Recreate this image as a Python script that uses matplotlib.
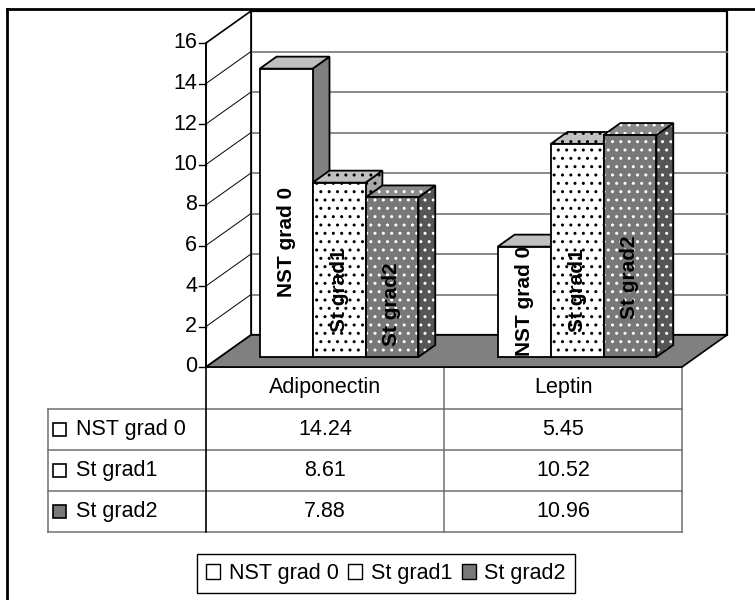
import numpy as np
import matplotlib
matplotlib.use("Agg")
import matplotlib.pyplot as plt
from matplotlib.patches import Polygon, Rectangle, Patch
from matplotlib.lines import Line2D
from matplotlib.transforms import IdentityTransform

# %%
categories = ["Adiponectin", "Leptin"]
series = ["NST grad 0", "St grad1", "St grad2"]
adiponectin = [14.24, 8.61, 7.88]
leptin = [5.45, 10.52, 10.96]
yticks = [0, 2, 4, 6, 8, 10, 12, 14, 16]

values = [adiponectin, leptin]

# height (in value units) at which the rotated bar labels are centred
label_mid = [[5.7, 3.3, 2.6], [2.75, 3.3, 3.95]]

plt.rcParams["font.family"] = ["Liberation Sans", "DejaVu Sans"]

W, H = 755, 600
fig = plt.figure(figsize=(W / 100, H / 100), dpi=100)

# pixel-unit layer for frame, data table and legend
bg = fig.add_axes([0, 0, 1, 1])
bg.set_xlim(0, W)
bg.set_ylim(H, 0)
bg.axis("off")

# front plane of the 3d plot
x0, x1, y0, y1 = 206, 682, 367, 43
ax = fig.add_axes([x0 / W, 1 - y0 / H, (x1 - x0) / W, (y0 - y1) / H])
ax.set_xlim(0, len(categories))
ax.set_ylim(yticks[0], yticks[-1])
ax.axis("off")

DEPTH = np.array([45.0, 32.0])   # full floor depth, display px
D_FRONT, D_BACK = 10 / 32, 22 / 32

gap = 1.5
bw = 1 / (len(series) + gap)


def pt(x, v, d=0.0):
    return ax.transData.transform((x, v)) + d * DEPTH


zc = [1]


def poly(verts, **kw):
    p = Polygon(verts, closed=True, transform=IdentityTransform(),
                clip_on=False, zorder=zc[0], **kw)
    ax.add_patch(p)
    zc[0] += 1


def seg(a, b, **kw):
    ln = Line2D([a[0], b[0]], [a[1], b[1]], transform=IdentityTransform(),
                clip_on=False, zorder=zc[0], **kw)
    ax.add_line(ln)
    zc[0] += 1


def face(verts, fc, hc=None, lw=1.3):
    poly(verts, facecolor=fc, edgecolor="none", lw=0)
    if hc is not None:
        poly(verts, facecolor="none", edgecolor=hc, lw=0, hatch="..")
    poly(verts, facecolor="none", edgecolor="black", lw=lw)


ncat = len(categories)
vmax = yticks[-1]

# back wall + gridlines
face([pt(0, 0, 1), pt(ncat, 0, 1), pt(ncat, vmax, 1), pt(0, vmax, 1)],
     "white", lw=1.6)
for t in yticks[1:-1]:
    seg(pt(0, t, 1), pt(ncat, t, 1), color="#808080", lw=1.3)

# side wall
face([pt(0, 0, 0), pt(0, 0, 1), pt(0, vmax, 1), pt(0, vmax, 0)], "white",
     lw=1.2)
for t in yticks[1:-1]:
    seg(pt(0, t, 0), pt(0, t, 1), color="black", lw=0.7)

# floor
face([pt(0, 0, 0), pt(ncat, 0, 0), pt(ncat, 0, 1), pt(0, 0, 1)], "#808080",
     lw=1.2)

# value axis
seg(pt(0, 0), pt(0, vmax), color="black", lw=1.2)
for t in yticks:
    p = pt(0, t)
    seg(p, p - np.array([7, 0]), color="black", lw=1.0)
    ax.text(p[0] - 9, p[1], str(t), ha="right", va="center", fontsize=15.5,
            transform=IdentityTransform(), zorder=zc[0])

# face colours per series: (front, top, side), hatch colour
styles = [
    (("white", "#c0c0c0", "#808080"), None),
    (("white", "#c0c0c0", "#a8a8a8"), "black"),
    (("#787878", "#8a8a8a", "#555555"), "white"),
]

for i, cat in enumerate(categories):
    start = i + (1 - len(series) * bw) / 2
    for j, name in enumerate(series):
        v = values[i][j]
        l, r = start + j * bw, start + (j + 1) * bw
        (fc_front, fc_top, fc_side), hc = styles[j]
        face([pt(r, 0, D_FRONT), pt(r, 0, D_BACK), pt(r, v, D_BACK),
              pt(r, v, D_FRONT)], fc_side, hc)
        face([pt(l, v, D_FRONT), pt(r, v, D_FRONT), pt(r, v, D_BACK),
              pt(l, v, D_BACK)], fc_top, hc)
        face([pt(l, 0, D_FRONT), pt(r, 0, D_FRONT), pt(r, v, D_FRONT),
              pt(l, v, D_FRONT)], fc_front, hc)
        c = pt((l + r) / 2, label_mid[i][j], D_FRONT)
        ax.text(c[0], c[1], name, rotation=90, ha="center", va="center",
                fontsize=15, fontweight="bold", transform=IdentityTransform(),
                zorder=zc[0])
        zc[0] += 1

# %%
# data table under the plot
col_w = (x1 - x0) / ncat
row_y = [367, 409, 450, 491, 532]
tab_left = 48
gray = "#707070"

bg.plot([x0, x1], [row_y[0], row_y[0]], color="black", lw=1.2)
for y in row_y[1:]:
    bg.plot([tab_left, x1], [y, y], color=gray, lw=1.1)
bg.plot([x0, x0], [row_y[0], row_y[-1]], color="black", lw=1.2)
bg.plot([tab_left, tab_left], [row_y[1], row_y[-1]], color=gray, lw=1.1)
for k in range(1, ncat + 1):
    bg.plot([x0 + k * col_w] * 2, [row_y[0], row_y[-1]], color=gray, lw=1.1)

for i, cat in enumerate(categories):
    bg.text(x0 + (i + 0.5) * col_w, (row_y[0] + row_y[1]) / 2, cat,
            ha="center", va="center", fontsize=15.5)

key_fc = ["white", "white", "#787878"]
for j, name in enumerate(series):
    ym = (row_y[j + 1] + row_y[j + 2]) / 2
    bg.add_patch(Rectangle((53, ym - 6.5), 13, 13, facecolor=key_fc[j],
                           edgecolor="black", lw=1.2))
    bg.text(76, ym, name, ha="left", va="center", fontsize=15.5)
    for i in range(ncat):
        bg.text(x0 + (i + 0.5) * col_w, ym, f"{values[i][j]:.2f}",
                ha="center", va="center", fontsize=15.5)

# outer chart frame
bg.plot([7, 7], [9, H], color="black", lw=2)
bg.plot([7, W], [9, 9], color="black", lw=2)

handles = [Patch(facecolor=key_fc[j], edgecolor="black", lw=1.0)
           for j in range(len(series))]
leg = fig.legend(handles, series, ncol=3, loc="center",
                 bbox_to_anchor=(386 / W, 1 - 573.5 / H), fontsize=15.5,
                 fancybox=False, edgecolor="black", framealpha=1,
                 handlelength=0.65, handleheight=0.65, handletextpad=0.4,
                 columnspacing=0.45, borderpad=0.4)
leg.get_frame().set_linewidth(1.0)

fig.savefig("out.png", dpi=100)
